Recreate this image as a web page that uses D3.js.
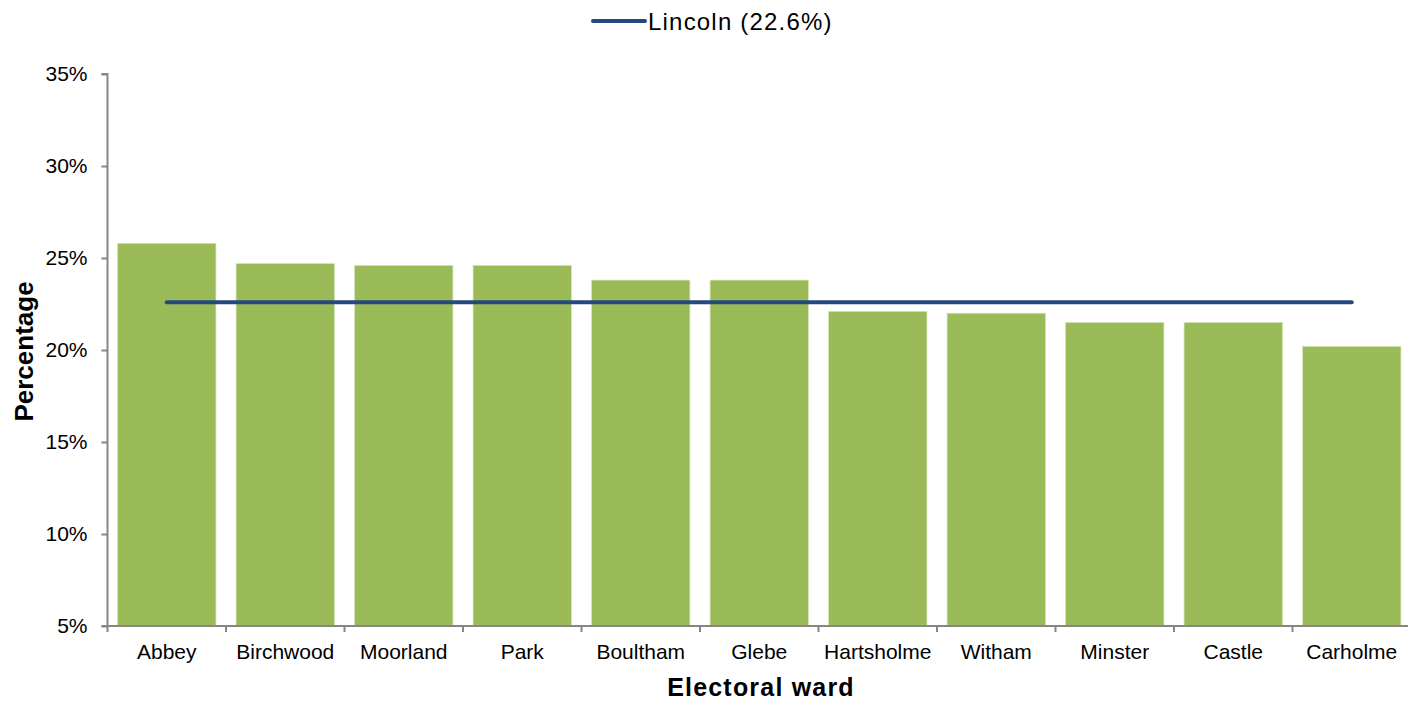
<!DOCTYPE html>
<html><head><meta charset="utf-8">
<script src="https://cdn.jsdelivr.net/npm/d3@7"></script>
<style>body{margin:0;background:#fff;} svg{display:block;font-family:"Liberation Sans",Arial,sans-serif;}</style>
</head><body>
<svg id="c" width="1408" height="701"></svg>
<script>
const categories = ["Abbey","Birchwood","Moorland","Park","Boultham","Glebe","Hartsholme","Witham","Minster","Castle","Carholme"];
const values = [25.8,24.7,24.6,24.6,23.8,23.8,22.1,22.0,21.5,21.5,20.2];
const lincolnValue = 22.6;
const lincolnLabel = "Lincoln (22.6%)";
const yTicks = [5,10,15,20,25,30,35];

const svg = d3.select("#c");
const x = d3.scaleBand().domain(categories).range([107.5, 1411]).paddingInner(0.17).paddingOuter(0.085);
const y = d3.scaleLinear().domain([5,35]).range([626,74]);

svg.append("g").selectAll("rect").data(values).join("rect")
  .attr("x",(d,i)=>x(categories[i])).attr("width",x.bandwidth())
  .attr("y",d=>y(d)).attr("height",d=>y(5)-y(d))
  .attr("fill","#9BBB59").attr("stroke","#d8e4bc").attr("stroke-width",0.7);

// Lincoln line
const lineData = categories.map(c=>({c, v: lincolnValue}));
svg.append("path").datum(lineData)
  .attr("d", d3.line().x(d=>x(d.c)+x.bandwidth()/2).y(d=>y(d.v)))
  .attr("fill","none").attr("stroke","#24497c").attr("stroke-width",4).attr("stroke-linecap","round");

// y axis
const yAxis = svg.append("g").attr("transform","translate(107.5,0)")
  .call(d3.axisLeft(y).tickValues(yTicks).tickFormat(d=>d+"%").tickSize(6).tickPadding(14));
yAxis.select(".domain").attr("stroke","#868686").attr("stroke-width",2).attr("d","M-6,74H0V626H-6");
yAxis.selectAll(".tick line").attr("stroke","#868686").attr("stroke-width",2);
yAxis.selectAll(".tick text").attr("font-size",21).attr("fill","#000").attr("font-family","Liberation Sans, Arial, sans-serif");

// x axis
const xg = svg.append("g").attr("transform","translate(0,626)");
xg.append("line").attr("x1",107.5).attr("x2",1408).attr("y1",0).attr("y2",0).attr("stroke","#868686").attr("stroke-width",2);
const bounds = categories.map(c=>x(c)-x.step()*x.paddingInner()/2);
xg.selectAll(".xt").data(bounds).join("line")
  .attr("x1",d=>d).attr("x2",d=>d).attr("y1",0).attr("y2",6).attr("stroke","#868686").attr("stroke-width",2);
xg.selectAll(".xl").data(categories).join("text")
  .attr("x",d=>x(d)+x.bandwidth()/2).attr("y",33).attr("text-anchor","middle")
  .attr("font-size",21).attr("fill","#000").text(d=>d);

// axis titles
svg.append("text").attr("x",761).attr("y",696).attr("text-anchor","middle")
  .attr("font-size",25).attr("letter-spacing",1.2).attr("font-weight","bold").text("Electoral ward");
svg.append("text").attr("transform","translate(32.5,351.5) rotate(-90)").attr("text-anchor","middle")
  .attr("font-size",26).attr("font-weight","bold").text("Percentage");

// legend
svg.append("line").attr("x1",593).attr("x2",645).attr("y1",21).attr("y2",21)
  .attr("stroke","#24497c").attr("stroke-width",4).attr("stroke-linecap","round");
svg.append("text").attr("x",648).attr("y",29.5).attr("font-size",24).attr("letter-spacing",1.2).attr("fill","#000").text(lincolnLabel);
</script>
</body></html>
